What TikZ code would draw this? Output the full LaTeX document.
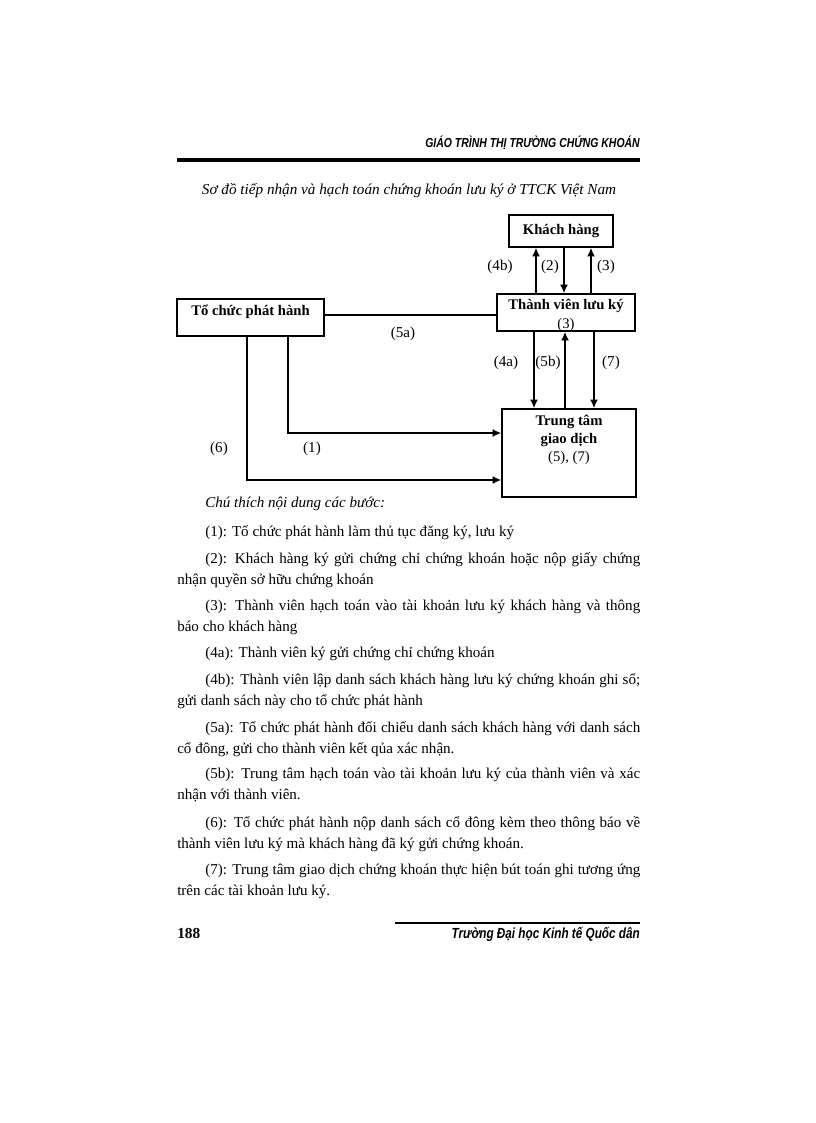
\documentclass[tikz,border=0pt]{standalone}
\usepackage{fontspec}
\setmainfont{Liberation Serif}
\newfontfamily\hdrfont[FakeStretch=0.8]{Liberation Sans}
\usetikzlibrary{calc, arrows.meta}
\tikzset{>={Latex[length=6.5pt, width=6pt]}}
\tikzset{
  box/.style = {draw, line width = 1.2pt, fill = white, inner sep = 0pt, font = \fontsize{11}{13}\selectfont\bfseries},
  boxtext/.style = {inner sep = 0pt, align = center, font = \fontsize{11}{13.5}\selectfont\bfseries},
  lbl/.style = {inner sep = 0pt, font = \fontsize{11.3}{13}\selectfont},
  para/.style = {anchor = base west, inner sep = 0pt, text width = 347.25pt, align = justify, font = \fontsize{11.3}{16.1}\selectfont},
  flow/.style = {->, line width = 1.1pt}
}
\newcommand{\ind}{\hspace*{21pt}}

\begin{document}
\begin{tikzpicture}[x = 0.75pt, y = -0.75pt]

\useasboundingbox (0, 0) rectangle (816, 1123); % page

% header
\node[anchor = base east, inner sep = 0pt, font = \hdrfont\fontsize{9.8}{11}\selectfont\bfseries\itshape] (hdr) at (640, 148) {GIÁO TRÌNH THỊ TRƯỜNG CHỨNG KHOÁN};
\draw[line width = 2.5pt] (177, 160) -- (640, 160);

\node[anchor = base, inner sep = 0pt, font = \fontsize{11.4}{14}\selectfont\itshape] (title) at (409, 195) {Sơ đồ tiếp nhận và hạch toán chứng khoán lưu ký ở TTCK Việt Nam};

% boxes
\node[box, minimum width = 78pt, minimum height = 24pt] (kh) at (561, 231) {Khách hàng};
\node[box, minimum width = 103.5pt, minimum height = 27.75pt] (tv) at (566, 312.5) {};
\node[boxtext] (tvx) at ([yshift = -2.25pt]tv.center) {Thành viên lưu ký\\[0.5pt]{\mdseries (3)}};
\node[box, minimum width = 110pt, minimum height = 27.75pt, text height = 10.5pt, text depth = 14pt] (tc) at (250.5, 317.5) {Tổ chức phát hành};
\node[box, minimum width = 100.5pt, minimum height = 66pt] (tt) at (569, 453) {};
\node[boxtext, anchor = north] (ttx) at ([yshift = -5.25pt]tt.north) {Trung tâm\\giao dịch\\{\mdseries (5), (7)}};

% connector positions
\coordinate (x4b) at (536, 0);
\coordinate (x2) at (564, 0);
\coordinate (x3) at (591, 0);
\coordinate (x4a) at (534, 0);
\coordinate (x5b) at (565, 0);
\coordinate (x7) at (594, 0);
\coordinate (c5a) at (0, 315);
\coordinate (c1) at (288, 433);
\coordinate (c6) at (247, 480);

\draw[flow] (tv.north -| x4b) -- (kh.south -| x4b);
\draw[flow] (kh.south -| x2) -- (tv.north -| x2);
\draw[flow] (tv.north -| x3) -- (kh.south -| x3);
\draw[flow] (tv.south -| x4a) -- (tt.north -| x4a);
\draw[flow] (tt.north -| x5b) -- (tv.south -| x5b);
\draw[flow] (tv.south -| x7) -- (tt.north -| x7);
\draw[line width = 1.1pt] (tc.east |- c5a) -- (tv.west |- c5a);
\draw[flow] (tc.south -| c1) |- (tt.west |- c1);
\draw[flow] (tc.south -| c6) |- (tt.west |- c6);

\node[lbl] (l4b) at (500, 267) {(4b)};
\node[lbl] (l2) at (550, 267) {(2)};
\node[lbl] (l3) at (606, 267) {(3)};
\node[lbl] (l5a) at (403, 334) {(5a)};
\node[lbl] (l4a) at (506, 363) {(4a)};
\node[lbl] (l5b) at (548, 363) {(5b)};
\node[lbl] (l7) at (611, 363) {(7)};
\node[lbl] (l6) at (219, 449) {(6)};
\node[lbl] (l1) at (312, 449) {(1)};

% notes
\node[anchor = base west, inner sep = 0pt, font = \fontsize{11.3}{13}\selectfont\itshape] (notes) at (205, 507) {Chú thích nội dung các bước:};
\node[para] (p1) at (177, 536) {\ind (1): Tổ chức phát hành làm thủ tục đăng ký, lưu ký};
\node[para] (p2) at (177, 563) {\ind (2): Khách hàng ký gửi chứng chỉ chứng khoán hoặc nộp giấy chứng\linebreak nhận quyền sở hữu chứng khoán};
\node[para] (p3) at (177, 610) {\ind (3): Thành viên hạch toán vào tài khoản lưu ký khách hàng và thông\linebreak báo cho khách hàng};
\node[para] (p4a) at (177, 657) {\ind (4a): Thành viên ký gửi chứng chỉ chứng khoán};
\node[para] (p4b) at (177, 684) {\ind (4b): Thành viên lập danh sách khách hàng lưu ký chứng khoán ghi sổ;\linebreak gửi danh sách này cho tổ chức phát hành};
\node[para] (p5a) at (177, 732) {\ind (5a): Tổ chức phát hành đối chiếu danh sách khách hàng với danh sách\linebreak cổ đông, gửi cho thành viên kết qủa xác nhận.};
\node[para] (p5b) at (177, 778) {\ind (5b): Trung tâm hạch toán vào tài khoản lưu ký của thành viên và xác\linebreak nhận với thành viên.};
\node[para] (p6) at (177, 827) {\ind (6): Tổ chức phát hành nộp danh sách cổ đông kèm theo thông báo về\linebreak thành viên lưu ký mà khách hàng đã ký gửi chứng khoán.};
\node[para] (p7) at (177, 874) {\ind (7): Trung tâm giao dịch chứng khoán thực hiện bút toán ghi tương ứng\linebreak trên các tài khoản lưu ký.};

% footer
\draw[line width = 0.8pt] (395, 923) -- (640, 923);
\node[anchor = base west, inner sep = 0pt, font = \fontsize{11.5}{13}\selectfont\bfseries] (pg) at (177, 938) {188};
\node[anchor = base east, inner sep = 0pt, font = \hdrfont\fontsize{11}{13}\selectfont\bfseries\itshape] (ftr) at (640, 938) {Trường Đại học Kinh tế Quốc dân};

\end{tikzpicture}
\end{document}
